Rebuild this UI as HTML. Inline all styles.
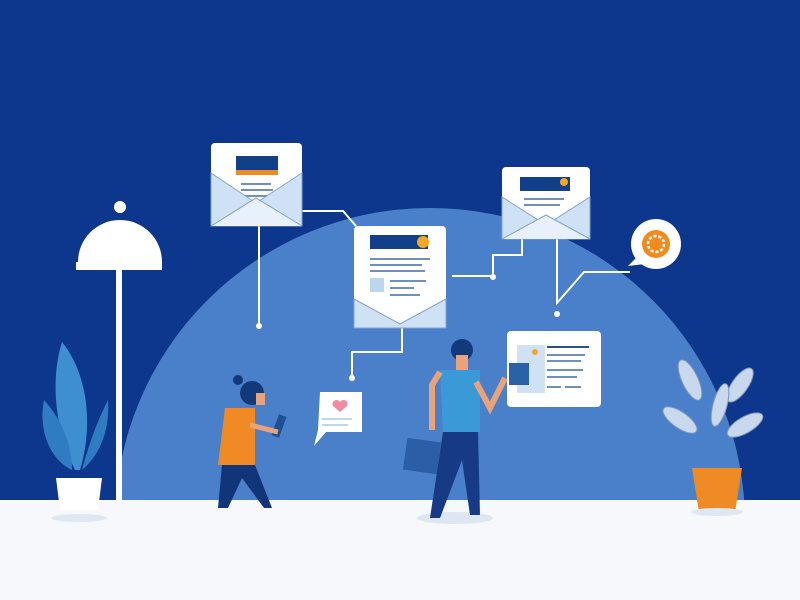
<!DOCTYPE html>
<html><head><meta charset="utf-8"><style>html,body{margin:0;padding:0;width:800px;height:600px;overflow:hidden;background:#0c378c}svg{display:block}</style></head>
<body>
<svg width="800" height="600" viewBox="0 0 800 600" xmlns="http://www.w3.org/2000/svg">
<rect width="800" height="600" fill="#0c378c"/>
<circle cx="430" cy="523" r="315" fill="#4a80c9"/>
<rect y="500" width="800" height="100" fill="#f6f8fb"/>
<g stroke="#fff" stroke-width="2" fill="none">
<path d="M259 225 V325"/><path d="M302 211 H343 L356 226"/>
<path d="M402 328 V352 H352 V377"/>
<path d="M452 276 H493 V255 H522 V238"/>
<path d="M557 238 V303 L584 272 H630"/>
</g>
<g fill="#fff"><circle cx="259" cy="326" r="3"/><circle cx="352" cy="378" r="3"/><circle cx="493" cy="277" r="3"/><circle cx="557" cy="314" r="3"/></g>
<g transform="translate(211,143)">
<rect width="91" height="83" rx="4" fill="#fff"/>
<rect x="25" y="13" width="42" height="14" fill="#123f8a"/><rect x="25" y="27" width="42" height="5" fill="#f08a24"/>
<rect x="25" y="32" width="42" height="30" fill="#fff"/>
<g fill="#6f8fbf"><rect x="30" y="40" width="30" height="2"/><rect x="30" y="46" width="32" height="2"/><rect x="30" y="52" width="28" height="2"/></g>
<path d="M0 30 L45 60 L91 30 V83 H0Z" fill="#cfe2f5" stroke="#7fa3d0"/>
<path d="M0 83 L45 55 L91 83" fill="#e8f1fb" stroke="#7fa3d0"/>
</g>
<g transform="translate(354,226)">
<rect width="92" height="102" rx="4" fill="#fff"/>
<rect x="16" y="9" width="58" height="14" fill="#123f8a"/><circle cx="69" cy="16" r="6" fill="#f5a623"/>
<g fill="#6f8fbf"><rect x="16" y="32" width="60" height="2"/><rect x="16" y="38" width="52" height="2"/><rect x="16" y="44" width="55" height="2"/><rect x="36" y="54" width="36" height="2"/><rect x="36" y="61" width="24" height="2"/><rect x="36" y="68" width="30" height="2"/></g>
<rect x="16" y="52" width="14" height="14" fill="#bcd6f0"/>
<path d="M0 73 L46 98 L92 73 V102 H0Z" fill="#cfe2f5" stroke="#7fa3d0"/>
</g>
<g transform="translate(502,167)">
<rect width="88" height="72" rx="4" fill="#fff"/>
<rect x="18" y="10" width="50" height="14" fill="#123f8a"/><circle cx="62" cy="15" r="4" fill="#f5a623"/>
<g fill="#6f8fbf"><rect x="22" y="31" width="40" height="2"/><rect x="22" y="37" width="36" height="2"/></g>
<path d="M0 30 L44 58 L88 30 V72 H0Z" fill="#cfe2f5" stroke="#7fa3d0"/>
<path d="M0 72 L44 48 L88 72" fill="#e8f1fb" stroke="#7fa3d0"/>
</g>
<circle cx="656" cy="244" r="25" fill="#fff"/><path d="M636 258 L628 266 L645 264Z" fill="#fff"/>
<circle cx="656" cy="244" r="14" fill="#f28a1e"/><circle cx="656" cy="244" r="8" fill="none" stroke="#fff" stroke-width="2.5" stroke-dasharray="3 2"/>
<g transform="translate(507,331)">
<rect width="94" height="76" rx="4" fill="#fff"/>
<rect x="10" y="14" width="28" height="48" fill="#cfe2f5"/><circle cx="28" cy="21" r="3" fill="#f5a623"/>
<rect x="2" y="32" width="20" height="22" fill="#2a62a8"/>
<rect x="40" y="15" width="42" height="2" fill="#2b4f8f"/>
<g fill="#6f8fbf"><rect x="40" y="23" width="38" height="2"/><rect x="40" y="29" width="34" height="2"/><rect x="40" y="38" width="36" height="2"/><rect x="40" y="45" width="30" height="2"/><rect x="40" y="55" width="14" height="2"/><rect x="58" y="55" width="16" height="2"/></g>
</g>
<path d="M320 392 H362 V432 H326 L314 446 L318 430 Z" fill="#fff"/>
<path d="M340 412 l-7 -6 a4 4 0 0 1 7 -4 a4 4 0 0 1 7 4z" fill="#f08ba0"/>
<g fill="#bcd6f0"><rect x="322" y="418" width="30" height="2"/><rect x="322" y="424" width="26" height="2"/></g>
<circle cx="120" cy="207" r="6" fill="#fff"/>
<path d="M78 262 A42 42 0 0 1 162 262Z" fill="#fff"/><rect x="76" y="262" width="86" height="8" fill="#fff"/>
<rect x="116" y="270" width="6" height="230" fill="#fff"/>
<g fill="#3d8fd1"><path d="M75 470 C55 430 50 380 62 342 C85 370 95 420 80 470Z"/><path d="M72 470 C50 460 38 430 44 400 C62 420 72 445 72 470Z" fill="#2f7cc2"/><path d="M82 470 C90 440 98 420 108 400 C110 430 100 455 82 470Z" fill="#2f7cc2"/></g>
<path d="M56 478 H102 L98 510 H60Z" fill="#fff"/><ellipse cx="79" cy="518" rx="28" ry="4" fill="#dfe7f2"/>
<g fill="#c9d8ec" stroke="#7e97bb"><ellipse cx="690" cy="380" rx="8" ry="22" transform="rotate(-25 690 380)"/><ellipse cx="740" cy="385" rx="8" ry="20" transform="rotate(35 740 385)"/><ellipse cx="680" cy="420" rx="8" ry="20" transform="rotate(-55 680 420)"/><ellipse cx="745" cy="425" rx="8" ry="20" transform="rotate(60 745 425)"/><ellipse cx="720" cy="405" rx="7" ry="22" transform="rotate(15 720 405)"/></g>
<path d="M692 468 H742 L735 512 H699Z" fill="#f08a24"/><ellipse cx="717" cy="512" rx="26" ry="4" fill="#dfe7f2"/>
<g>
<circle cx="238" cy="380" r="5" fill="#123a7a"/><circle cx="252" cy="393" r="12" fill="#123a7a"/>
<rect x="256" y="393" width="9" height="12" fill="#e9a27a"/>
<path d="M225 408 H255 V465 H218Z" fill="#f08a24"/>
<path d="M222 465 H255 L272 508 H264 L242 478 L228 508 H218Z" fill="#12357a"/>
<rect x="275" y="415" width="8" height="22" fill="#1f4f95" transform="rotate(20 279 426)"/>
<path d="M250 425 L278 432" stroke="#e9a27a" stroke-width="5"/>
</g>
<g>
<ellipse cx="455" cy="518" rx="38" ry="6" fill="#dde6f2"/>
<circle cx="462" cy="350" r="11" fill="#123a7a"/><rect x="456" y="355" width="12" height="16" fill="#e9a27a"/>
<path d="M440 370 H480 V432 H443Z" fill="#3a9ad8"/>
<path d="M440 372 L432 385 L432 430" stroke="#e9a27a" stroke-width="6" fill="none"/>
<path d="M476 382 L490 408 L505 378" stroke="#e9a27a" stroke-width="6" fill="none"/>
<path d="M443 432 H478 L480 515 H470 L462 460 L440 518 H430Z" fill="#163a86"/>
<rect x="405" y="440" width="34" height="32" fill="#2a5fa8" transform="rotate(8 422 456)"/>
</g>
</svg>
</body></html>
